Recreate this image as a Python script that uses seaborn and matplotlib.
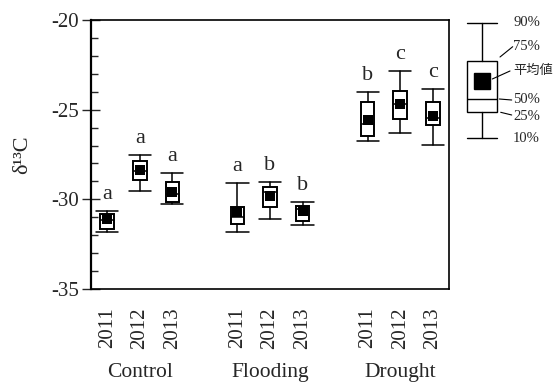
import matplotlib
matplotlib.use("Agg")
import matplotlib.pyplot as plt
import seaborn as sns
import pandas as pd
import numpy as np
from matplotlib.ticker import MultipleLocator

sns.set_style("ticks")
plt.rcParams['font.family'] = ['Liberation Serif', 'Noto Sans CJK JP', 'DejaVu Sans']
plt.rcParams['axes.unicode_minus'] = False

treatments = ["Control", "Flooding", "Drought"]
years = ["2011", "2012", "2013"]
p10 = [-31.83, -29.54, -30.27, -31.83, -31.07, -31.44, -26.73, -26.31, -26.97]
p25 = [-31.68, -28.91, -30.17, -31.35, -30.45, -31.20, -26.45, -25.50, -25.87]
p50 = [-31.15, -28.40, -29.73, -30.98, -29.58, -30.55, -25.81, -24.70, -25.47]
p75 = [-30.79, -27.85, -29.05, -30.42, -29.30, -30.36, -24.60, -23.95, -24.58]
p90 = [-30.64, -27.53, -28.55, -29.11, -29.02, -30.17, -24.02, -22.86, -23.85]
means = [-31.07, -28.38, -29.58, -30.70, -29.80, -30.66, -25.57, -24.69, -25.34]
letters = ["a", "a", "a", "a", "b", "b", "b", "c", "c"]

# key (legend) illustration
key_labels = ["90%", "75%", "平均値", "50%", "25%", "10%"]

rows = []
for gi, t in enumerate(treatments):
    for yi, y in enumerate(years):
        rows.append({"treatment": t, "year": y, "pos": gi * 4 + yi})
df = pd.DataFrame(rows)
df["p10"], df["p25"], df["p50"], df["p75"], df["p90"], df["mean"] = p10, p25, p50, p75, p90, means
df["letter"] = letters

fig = plt.figure(figsize=(5.55, 3.82), dpi=100)
ax = fig.add_axes([91/555, 1-289/382, (449-91)/555, (289-20)/382])

stats = []
for _, r in df.iterrows():
    stats.append(dict(med=r.p50, q1=r.p25, q3=r.p75, whislo=r.p10, whishi=r.p90, fliers=[]))

lw = 1.1
ax.bxp(stats, positions=df["pos"].tolist(), widths=0.42, capwidths=0.68,
       showfliers=False, patch_artist=True,
       boxprops=dict(facecolor="white", edgecolor="black", linewidth=1.4),
       medianprops=dict(color="black", linewidth=lw),
       whiskerprops=dict(color="black", linewidth=lw),
       capprops=dict(color="black", linewidth=lw))

sns.scatterplot(data=df, x="pos", y="mean", marker="s", s=55, color="black",
                edgecolor="black", linewidth=0, ax=ax, zorder=5, legend=False)

for _, r in df.iterrows():
    ax.annotate(r.letter, (r.pos, r.p90), xytext=(0, 5), textcoords="offset points",
                ha="center", va="bottom", fontsize=16)

ax.set_xlim(-0.5, 10.5)
ax.set_ylim(-35, -20)
ax.set_xticks(df["pos"].tolist())
ax.set_xticklabels(df["year"].tolist(), rotation=90, fontsize=15)
ax.tick_params(axis="x", length=0, pad=13)
ax.yaxis.set_major_locator(MultipleLocator(5))
ax.yaxis.set_minor_locator(MultipleLocator(1))
ax.tick_params(axis="y", which="major", direction="inout", length=13, width=1.0, labelsize=15, pad=2)
ax.tick_params(axis="y", which="minor", direction="in", length=5, width=1.0)
ax.set_xlabel("")
ax.set_ylabel("δ¹³C", fontsize=16, labelpad=14)
for s in ax.spines.values():
    s.set_visible(True)
    s.set_linewidth(1.2)
    s.set_color("black")
ax.spines["left"].set_linewidth(1.6)

for gi, t in enumerate(treatments):
    ax.text(gi * 4 + 1, -0.31, t, transform=ax.get_xaxis_transform(),
            ha="center", va="center", fontsize=15.5)

# key axes (pixel-like coordinates)
kax = fig.add_axes([455/555, 1-160/382, 100/555, 160/382])
kax.set_xlim(0, 100)
kax.set_ylim(160, 0)
kax.axis("off")
key_vals = dict(whishi=22.7, q3=61, med=99, q1=112, whislo=137.7, mean=81)
kax.bxp([dict(med=key_vals["med"], q1=key_vals["q1"], q3=key_vals["q3"],
              whislo=key_vals["whislo"], whishi=key_vals["whishi"], fliers=[])],
        positions=[27.3], widths=30, capwidths=30, showfliers=False, patch_artist=True,
        boxprops=dict(facecolor="white", edgecolor="black", linewidth=1.0),
        medianprops=dict(color="black", linewidth=1.0),
        whiskerprops=dict(color="black", linewidth=1.0),
        capprops=dict(color="black", linewidth=1.0))
kax.plot([27.3], [key_vals["mean"]], marker="s", markersize=11.5, color="black", zorder=5)
label_y = [22.7, 46, 70.7, 99.3, 116.7, 139]
for lab, yv in zip(key_labels, label_y):
    kax.text(58, yv, lab, ha="left", va="center", fontsize=10.5 if lab != "平均値" else 9.5,
             family=['Liberation Serif', 'Noto Sans CJK JP'])
kax.plot([45, 57.7], [57, 46.7], color="black", lw=0.8)
kax.plot([37.3, 55], [79, 71], color="black", lw=0.8)
kax.plot([44.3, 56.7], [99, 100], color="black", lw=0.8)
kax.plot([45.7, 56.7], [112.3, 115], color="black", lw=0.8)

fig.savefig("out.png", dpi=100)
